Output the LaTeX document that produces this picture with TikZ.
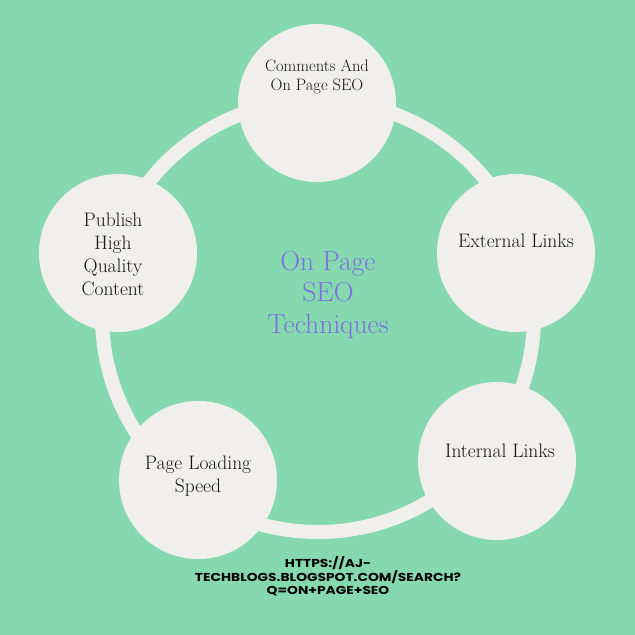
\documentclass[tikz,border=0pt]{standalone}
\usepackage{fontspec}
\newfontfamily\urlfont[FakeStretch=1.2]{Poppins}
\definecolor{bgc}{HTML}{86D9AE}
\definecolor{discfill}{HTML}{F0EFED}
\definecolor{titlec}{HTML}{7C6FE0}
\definecolor{ink}{HTML}{151515}
\begin{document}
\begin{tikzpicture}[x=1pt,y=-1pt,
  discnode/.style={circle,fill=discfill,minimum size=158pt,inner sep=0pt},
  lbl/.style={text=ink,align=center,inner sep=0pt,font=\fontsize{19.5}{23}\selectfont},
  smalllbl/.style={text=ink,align=center,inner sep=0pt,font=\fontsize{16.5}{18.5}\selectfont},
  titlelbl/.style={text=titlec,align=center,inner sep=0pt,font=\fontsize{27.5}{31.5}\selectfont},
  urllbl/.style={text=black,align=center,inner sep=0pt,font=\urlfont\bfseries\fontsize{11.5}{13}\selectfont}]
\fill[bgc] (0,0) rectangle (635,635);
\useasboundingbox (0,0) rectangle (635,635);
\draw[discfill,line width=14pt] (318,316) circle[radius=216];
\node[discnode] (top) at (317,103) {};
\node[discnode] (right) at (516,253) {};
\node[discnode] (bright) at (497,461) {};
\node[discnode] (bleft) at (198,480) {};
\node[discnode] (left) at (118,253) {};
\node[smalllbl] (tTop) at (317,77) {Comments And\\On Page SEO};
\node[lbl] (tRight) at (516,241) {External Links};
\node[lbl] (tBright) at (500,451) {Internal Links};
\node[lbl] (tBleft) at (198,476) {Page Loading\\Speed};
\node[lbl] (tLeft) at (113,254) {Publish\\High\\Quality\\Content};
\node[titlelbl] (title) at (328,295) {On Page\\SEO\\Techniques};
\node[urllbl] (url) at (328,576) {HTTPS://AJ-\\TECHBLOGS.BLOGSPOT.COM/SEARCH?\\Q=ON+PAGE+SEO};
\end{tikzpicture}
\end{document}
